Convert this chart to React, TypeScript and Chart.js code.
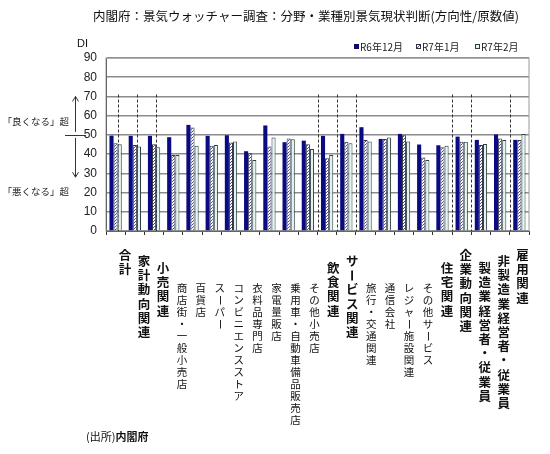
import React, { useEffect, useRef } from 'react';
import { Chart, ChartConfiguration, Plugin, registerables } from 'chart.js';

Chart.register(...registerables);

// categories as printed under the chart (vertical text)
const categories: string[] = [
  '合計',
  '家計動向関連',
  '小売関連',
  '商店街・一般小売店',
  '百貨店',
  'スーパー',
  'コンビニエンスストア',
  '衣料品専門店',
  '家電量販店',
  '乗用車・自動車備品販売店',
  'その他小売店',
  '飲食関連',
  'サービス関連',
  '旅行・交通関連',
  '通信会社',
  'レジャー施設関連',
  'その他サービス',
  '住宅関連',
  '企業動向関連',
  '製造業経営者・従業員',
  '非製造業経営者・従業員',
  '雇用関連',
];

const seriesLabels: string[] = ['R6年12月', 'R7年1月', 'R7年2月'];

const dec2024: number[] = [49.6, 49.5, 49.5, 48.8, 55.2, 49.5, 49.8, 41.5, 54.9, 46.2, 47.0, 49.5, 50.5, 54.0, 47.9, 50.5, 45.0, 44.6, 49.1, 47.4, 50.2, 47.4];
const jan2025: number[] = [45.7, 44.8, 45.1, 39.6, 53.8, 44.4, 46.0, 40.5, 43.9, 48.1, 45.1, 37.8, 46.4, 47.4, 47.9, 49.8, 38.2, 43.6, 46.4, 44.8, 48.1, 47.4];
const feb2025: number[] = [45.1, 43.9, 43.6, 39.6, 44.4, 44.8, 46.5, 37.0, 48.6, 47.7, 42.7, 39.6, 45.7, 46.5, 48.6, 46.5, 37.0, 44.4, 46.4, 45.3, 47.4, 50.5];

const yMin = 0;
const yMax = 90;
const yStep = 10;

// which labels are headings (bold) and how far each label hangs down
const boldCategories: number[] = [0, 1, 2, 11, 12, 17, 18, 19, 20, 21];
const labelLevels: number[] = [0, 1, 2, 3, 3, 3, 3, 3, 3, 3, 3, 2, 1, 3, 3, 3, 3, 2, 0, 2, 1, 0];
// dotted separators, in category units
const separators: number[] = [0.12, 1.12, 2.12, 10.5, 11.5, 12.5, 17.5, 18.5, 20.5];

const JP = '"Noto Sans CJK JP", "Noto Sans", sans-serif';

const App: React.FC = () => {
  const chartRef = useRef<HTMLCanvasElement>(null);
  const chartInstanceRef = useRef<Chart | null>(null);

  useEffect(() => {
    document.body.style.margin = '0';
    if (!chartRef.current) return;
    const ctx = chartRef.current.getContext('2d');
    if (!ctx) return;

    // hatched fill for R7年1月
    const tile = document.createElement('canvas');
    tile.width = 3;
    tile.height = 3;
    const t = tile.getContext('2d')!;
    t.fillStyle = '#ffffff';
    t.fillRect(0, 0, 3, 3);
    t.fillStyle = '#4b4b8f';
    t.fillRect(0, 2, 1, 1);
    t.fillRect(1, 1, 1, 1);
    t.fillRect(2, 0, 1, 1);
    const hatch = ctx.createPattern(tile, 'repeat') || '#cccccc';

    const fills: (string | CanvasPattern)[] = ['#0a0a82', hatch, '#e2f4f1'];
    const borders = ['#0a0a60', '#333344', '#2f3f3f'];

    const backdrop: Plugin<'bar'> = {
      id: 'backdrop',
      beforeDatasetsDraw(chart) {
        const { ctx: c, chartArea: a, scales } = chart;
        const x = scales.x;
        const y = scales.y;
        const step = x.getPixelForValue(1) - x.getPixelForValue(0);
        c.save();
        c.strokeStyle = '#9a9a9a';
        c.lineWidth = 1;
        c.strokeRect(a.left, a.top, a.right - a.left, a.bottom - a.top);
        c.strokeStyle = '#333333';
        c.setLineDash([3, 2]);
        separators.forEach((s) => {
          const i = Math.floor(s);
          const px = Math.round(x.getPixelForValue(i) + (s - i) * step) + 0.5;
          c.beginPath();
          c.moveTo(px, y.getPixelForValue(71));
          c.lineTo(px, y.getPixelForValue(0));
          c.stroke();
        });
        c.restore();
      },
    };

    const decorations: Plugin<'bar'> = {
      id: 'decorations',
      afterDraw(chart) {
        const { ctx: c, scales } = chart;
        const x = scales.x;
        const y = scales.y;
        c.save();
        c.fillStyle = '#111111';

        // title
        c.font = `12.5px ${JP}`;
        c.textAlign = 'center';
        c.textBaseline = 'middle';
        c.fillText('内閣府：景気ウォッチャー調査：分野・業種別景気現状判断(方向性/原数値)', 306, 16);

        // DI
        c.font = '11px "Liberation Sans", Arial, sans-serif';
        c.textAlign = 'left';
        c.fillText('DI', 77, 44);

        // legend
        c.font = `10px ${JP}`;
        const legendX = [354, 416, 475];
        chart.data.datasets.forEach((ds, i) => {
          const lx = legendX[i];
          c.fillStyle = fills[i] as any;
          c.fillRect(lx, 44, 5, 5);
          c.strokeStyle = borders[i];
          c.lineWidth = 1;
          c.strokeRect(lx + 0.5, 44.5, 4, 4);
          c.fillStyle = '#222222';
          c.fillText(String(ds.label), lx + 6, 47);
        });

        // direction notes
        const y50 = y.getPixelForValue(50);
        c.strokeStyle = '#333333';
        c.lineWidth = 1;
        c.beginPath();
        c.moveTo(65, Math.round(y50) + 0.5);
        c.lineTo(86, Math.round(y50) + 0.5);
        c.moveTo(75.5, y50 - 3);
        c.lineTo(75.5, y.getPixelForValue(70));
        c.moveTo(72.5, y.getPixelForValue(70) + 5);
        c.lineTo(75.5, y.getPixelForValue(70));
        c.lineTo(78.5, y.getPixelForValue(70) + 5);
        c.moveTo(75.5, y50 + 3);
        c.lineTo(75.5, y.getPixelForValue(28));
        c.moveTo(72.5, y.getPixelForValue(28) - 5);
        c.lineTo(75.5, y.getPixelForValue(28));
        c.lineTo(78.5, y.getPixelForValue(28) - 5);
        c.stroke();
        c.fillStyle = '#222222';
        c.font = `9.5px ${JP}`;
        c.textAlign = 'right';
        c.fillText('「良くなる」超', 69, y.getPixelForValue(57));
        c.fillText('「悪くなる」超', 69, y.getPixelForValue(20.5));

        // vertical category labels
        const levelTop = [249, 255, 262, 283];
        c.textAlign = 'center';
        c.textBaseline = 'top';
        categories.forEach((label, i) => {
          const bold = boldCategories.includes(i);
          const size = bold ? 12.5 : 10.5;
          const pitch = bold ? 14.2 : 12;
          const cx = x.getPixelForValue(i) + 9.5 - 0.3 * i;
          c.font = `${bold ? 'bold ' : ''}${size}px ${JP}`;
          c.fillStyle = '#111111';
          Array.from(label).forEach((ch, k) => {
            const ty = levelTop[labelLevels[i]] + k * pitch;
            if (ch === 'ー') {
              c.save();
              c.translate(cx, ty + size / 2);
              c.rotate(Math.PI / 2);
              c.textBaseline = 'middle';
              c.fillText(ch, 0, 0);
              c.restore();
            } else {
              c.fillText(ch, cx, ty);
            }
          });
        });

        // source
        c.textAlign = 'left';
        c.textBaseline = 'middle';
        c.font = `11px ${JP}`;
        c.fillText('(出所)', 86, 437);
        const w = c.measureText('(出所)').width;
        c.font = `bold 11px ${JP}`;
        c.fillText('内閣府', 86 + w, 437);
        c.restore();
      },
    };

    const config: ChartConfiguration<'bar'> = {
      type: 'bar',
      data: {
        labels: categories,
        datasets: [dec2024, jan2025, feb2025].map((values, i) => ({
          label: seriesLabels[i],
          data: values,
          backgroundColor: fills[i] as any,
          borderColor: borders[i],
          borderWidth: i === 0 ? 0 : 1,
          categoryPercentage: 0.64,
          barPercentage: 1,
        })),
      },
      options: {
        responsive: true,
        maintainAspectRatio: false,
        animation: false,
        layout: { padding: { left: 0, right: 21, top: 58, bottom: 0 } },
        plugins: {
          legend: { display: false },
          title: { display: false },
          tooltip: { enabled: false },
        },
        scales: {
          x: {
            afterFit: (scale) => {
              scale.height = 223;
            },
            ticks: { display: false },
            grid: {
              offset: true,
              drawOnChartArea: false,
              drawTicks: true,
              tickLength: 4,
              color: '#333333',
            },
            border: { display: true, color: '#333333', width: 1 },
          },
          y: {
            min: yMin,
            max: yMax,
            afterFit: (scale) => {
              scale.width = 106;
            },
            ticks: {
              stepSize: yStep,
              padding: 9,
              color: '#222222',
              font: { family: '"Liberation Sans", Arial, sans-serif', size: 12 },
            },
            grid: { color: '#8c8c8c', lineWidth: 1.5, drawTicks: false },
            border: { display: true, color: '#333333', width: 1 },
          },
        },
      },
      plugins: [backdrop, decorations],
    };

    chartInstanceRef.current = new Chart(ctx, config);

    return () => {
      if (chartInstanceRef.current) {
        chartInstanceRef.current.destroy();
        chartInstanceRef.current = null;
      }
    };
  }, []);

  return (
    <div style={{ position: 'relative', width: 550, height: 454 }}>
      <canvas ref={chartRef}></canvas>
    </div>
  );
};

export default App;
